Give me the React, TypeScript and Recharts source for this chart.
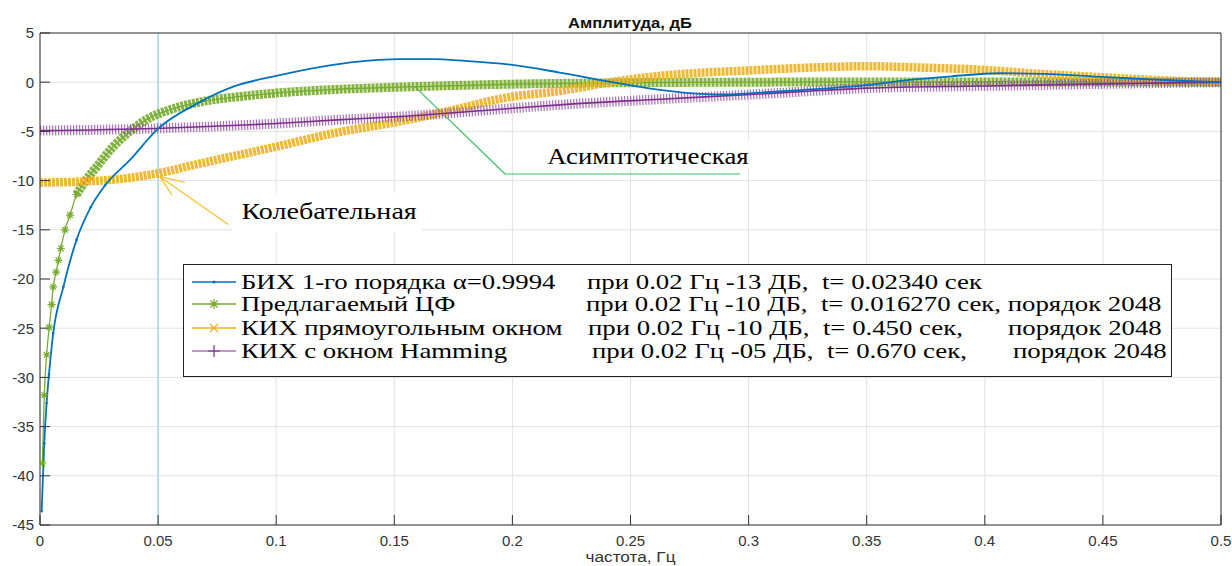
import React from "react";
import {
  LineChart,
  Line,
  XAxis,
  YAxis,
  CartesianGrid,
  ReferenceLine,
  ReferenceArea,
  ReferenceDot,
  Label,
} from "recharts";

// axis ticks
const xTicks = [0, 0.05, 0.1, 0.15, 0.2, 0.25, 0.3, 0.35, 0.4, 0.45, 0.5];
const yTicks = [-45, -40, -35, -30, -25, -20, -15, -10, -5, 0, 5];

// БИХ 1-го порядка
const freqBlue = [0.0007, 0.0018, 0.0028, 0.0038, 0.0056, 0.0099, 0.0155, 0.0215, 0.0275, 0.0381, 0.0501, 0.0663, 0.0818, 0.1, 0.124, 0.138, 0.152, 0.1665, 0.18, 0.2, 0.22, 0.241, 0.2625, 0.2794, 0.29, 0.3048, 0.322, 0.35, 0.368, 0.386, 0.406, 0.425, 0.445, 0.465, 0.485, 0.5];
const ampBlue = [-43.6, -36.7, -32.6, -29.7, -25.5, -20.8, -16.0, -12.7, -10.5, -7.9, -4.7, -2.2, -0.45, 0.64, 1.76, 2.17, 2.34, 2.34, 2.17, 1.76, 0.98, 0.06, -0.78, -1.19, -1.25, -1.06, -0.8, -0.3, 0.23, 0.6, 0.91, 0.85, 0.6, 0.35, 0.12, 0];

// Предлагаемый ЦФ
const freqGreen = [0.001, 0.0018, 0.0028, 0.0039, 0.0049, 0.0056, 0.0068, 0.0078, 0.0088, 0.0106, 0.0127, 0.0155, 0.019, 0.024, 0.031, 0.038, 0.045, 0.055, 0.068, 0.085, 0.1, 0.124, 0.152, 0.2, 0.25, 0.3, 0.35, 0.4, 0.45, 0.5];
const ampGreen = [-38.7, -31.8, -27.7, -24.9, -22.6, -20.8, -19.3, -18.1, -16.9, -15.0, -13.5, -11.4, -10.1, -8.6, -6.55, -5.0, -3.8, -2.8, -2.0, -1.45, -1.1, -0.75, -0.5, -0.2, -0.05, 0.0, 0.03, 0.03, 0.02, 0];

// КИХ прямоугольным окном
const freqYellow = [0, 0.018, 0.035, 0.049, 0.068, 0.1, 0.124, 0.152, 0.169, 0.2, 0.22, 0.24, 0.2625, 0.305, 0.33, 0.35, 0.378, 0.4, 0.42, 0.45, 0.477, 0.5];
const ampYellow = [-10.2, -10.1, -9.8, -9.3, -8.25, -6.55, -5.2, -4.0, -3.15, -1.46, -0.9, -0.05, 0.64, 1.25, 1.52, 1.62, 1.45, 1.25, 0.9, 0.5, 0.17, 0];

// КИХ с окном Hamming
const freqPurple = [0, 0.049, 0.1, 0.124, 0.152, 0.2, 0.22, 0.2625, 0.305, 0.33, 0.35, 0.4, 0.45, 0.5];
const ampPurple = [-4.92, -4.7, -4.2, -3.85, -3.5, -2.65, -2.3, -1.73, -1.2, -0.85, -0.6, -0.38, -0.17, 0];

// annotations, in data units (Гц, дБ)
const asymPath = [[0.1588, -0.48], [0.1969, -9.33], [0.2964, -9.33]];
const asymBox = [0.2117, 0.3014, -5.87, -8.72];
const asymText = [0.2574, -7.5];
const kolOrigin = [0.0508, -9.6];
const kolRays = [[0.0614, -10.17], [0.0558, -11.46], [0.0797, -14.45]];
const kolBox = [0.0813, 0.1617, -11.26, -15.2];
const kolText = [0.1224, -13.09];

// legend text pieces: [text, left]
const legendRows: [string, number][][] = [
  [["БИХ 1-го порядка α=0.9994", 241], ["при 0.02 Гц -13 ДБ,  t= 0.02340 сек", 587]],
  [["Предлагаемый ЦФ", 241], ["при 0.02 Гц -10 ДБ,  t= 0.016270 сек, порядок 2048", 586]],
  [["КИХ прямоугольным окном", 241], ["при 0.02 Гц -10 ДБ,  t= 0.450 сек,", 588], ["порядок 2048", 1008]],
  [["КИХ с окном Hamming", 241], ["при 0.02 Гц -05 ДБ,  t= 0.670 сек,", 592], ["порядок 2048", 1013]],
];
const legendCenters = [281.5, 304, 327.5, 350.5];

const BLUE = "#0072bd";
const GREEN = "#77ac30";
const YELLOW = "#edb120";
const PURPLE = "#7e2f8e";
const SERIF = "'Liberation Serif', 'Times New Roman', serif";
const SANS = "'Liberation Sans', Arial, sans-serif";

const blueData = freqBlue.map((f, i) => ({ f, v: ampBlue[i] }));
const greenData = freqGreen.map((f, i) => ({ f, v: ampGreen[i], band: f >= 0.0155 ? ampGreen[i] : null }));
const yellowData = freqYellow.map((f, i) => ({ f, v: ampYellow[i] }));
const purpleData = freqPurple.map((f, i) => ({ f, v: ampPurple[i] }));

const starPath = (cx: number, cy: number, r: number) => {
  const d = r * 0.7;
  return `M${cx - r},${cy}H${cx + r}M${cx},${cy - r}V${cy + r}M${cx - d},${cy - d}L${cx + d},${cy + d}M${cx - d},${cy + d}L${cx + d},${cy - d}`;
};
const crossPath = (cx: number, cy: number, r: number) =>
  `M${cx - r},${cy - r}L${cx + r},${cy + r}M${cx - r},${cy + r}L${cx + r},${cy - r}`;
const plusPath = (cx: number, cy: number, r: number) =>
  `M${cx - r},${cy}H${cx + r}M${cx},${cy - r}V${cy + r}`;

const GreenStar = (props: any) => {
  const { cx, cy, payload, index } = props;
  if (cx == null || cy == null || payload.f > 0.016) return <g key={`gs${index}`} />;
  return <path key={`gs${index}`} d={starPath(cx, cy, 4)} stroke={GREEN} strokeWidth={1.2} fill="none" />;
};

const BlueDot = (props: any) => {
  const { cx, cy, payload, index } = props;
  if (cx == null || cy == null || payload.f > 0.03) return <g key={`bd${index}`} />;
  return <circle key={`bd${index}`} cx={cx} cy={cy} r={1.3} fill={BLUE} />;
};

// annotation text, widened like in the picture
const annoLabel = (value: string, sx: number) => (props: any) => {
  const vb = props.viewBox || {};
  const x = (vb.x ?? 0) + (vb.width ?? 0) / 2;
  const y = (vb.y ?? 0) + (vb.height ?? 0) / 2;
  return (
    <text transform={`translate(${x},${y + 8}) scale(${sx},1)`} x={0} y={0} textAnchor="middle"
      fontFamily={SERIF} fontSize={23} fill="#000">
      {value}
    </text>
  );
};

const xAxisTitle = (props: any) => {
  const vb = props.viewBox || {};
  const cx = (vb.x ?? 0) + (vb.width ?? 0) / 2;
  return (
    <text x={cx - 45} y={(vb.y ?? 0) + 37} textLength={90} lengthAdjust="spacingAndGlyphs"
      fontFamily={SANS} fontSize={14} fill="#333">
      частота, Гц
    </text>
  );
};

function LegendBox() {
  const colors = [BLUE, GREEN, YELLOW, "#a77bb6"];
  const markers = [
    <circle cx={22} cy={7} r={1.5} fill={BLUE} />,
    <path d={starPath(22, 7, 5)} stroke={GREEN} strokeWidth={1.2} fill="none" />,
    <path d={crossPath(22, 7, 4)} stroke={YELLOW} strokeWidth={1.2} fill="none" />,
    <path d={plusPath(22, 7, 6)} stroke={PURPLE} strokeWidth={1.2} fill="none" />,
  ];
  return (
    <div
      style={{
        position: "absolute",
        left: 183,
        top: 264,
        width: 989,
        height: 113,
        boxSizing: "border-box",
        border: "1px solid #222",
        background: "#fff",
        fontFamily: SERIF,
        fontSize: 21,
        color: "#000",
      }}
    >
      {legendRows.map((row, i) => (
        <React.Fragment key={`row${i}`}>
          <svg width={46} height={14} style={{ position: "absolute", left: 8, top: legendCenters[i] - 264 - 8 }}>
            <line x1={0} x2={44} y1={7} y2={7} stroke={colors[i]} strokeWidth={1.3} />
            {markers[i]}
          </svg>
          {row.map(([t, l]) => (
            <span
              key={t}
              style={{
                position: "absolute",
                left: l - 184,
                top: legendCenters[i] - 264 - 13,
                whiteSpace: "pre",
                lineHeight: "24px",
                transform: "scaleX(1.275)",
                transformOrigin: "0 0",
              }}
            >
              {t}
            </span>
          ))}
        </React.Fragment>
      ))}
    </div>
  );
}

const tickFont = { fill: "#333", fontSize: 15, fontFamily: SANS };

export default function App() {
  return (
    <div style={{ position: "absolute", left: 0, top: 0, width: 1232, height: 566, background: "#fff" }}>
      <svg width={1232} height={40} style={{ position: "absolute", left: 0, top: 0 }}>
        <text x={568} y={28} textLength={124} lengthAdjust="spacingAndGlyphs"
          fontFamily={SANS} fontWeight="bold" fontSize={14} fill="#111">
          Амплитуда, дБ
        </text>
      </svg>
      <LineChart width={1232} height={566} margin={{ top: 32, right: 10, bottom: 0, left: 0 }}>
        <CartesianGrid stroke="#e2e2e2" />
        <XAxis
          dataKey="f"
          type="number"
          domain={[0, 0.5]}
          ticks={xTicks}
          height={41}
          stroke="#333"
          tickSize={-10}
          tickMargin={20}
          tick={tickFont}
          tickFormatter={(v: number) => String(v)}
          allowDataOverflow
        >
          <Label content={xAxisTitle} />
        </XAxis>
        <XAxis
          xAxisId="top"
          orientation="top"
          dataKey="f"
          type="number"
          domain={[0, 0.5]}
          ticks={xTicks}
          height={1}
          stroke="#333"
          tickSize={-10}
          tick={false}
        />
        <YAxis
          type="number"
          domain={[-45, 5]}
          ticks={yTicks}
          width={40}
          stroke="#333"
          tickSize={-10}
          tickMargin={16}
          tick={tickFont}
          allowDataOverflow
        />
        <YAxis
          yAxisId="right"
          orientation="right"
          type="number"
          domain={[-45, 5]}
          ticks={yTicks}
          width={1}
          stroke="#333"
          tickSize={-10}
          tick={false}
        />

        <ReferenceLine x={0.05} stroke="#a6dbe9" strokeWidth={1.6} />

        <ReferenceArea x1={asymBox[0]} x2={asymBox[1]} y1={asymBox[2]} y2={asymBox[3]} fill="#fff" fillOpacity={1} stroke="none" />
        <ReferenceArea x1={kolBox[0]} x2={kolBox[1]} y1={kolBox[2]} y2={kolBox[3]} fill="#fff" fillOpacity={1} stroke="none" />

        <ReferenceLine
          segment={[{ x: asymPath[0][0], y: asymPath[0][1] }, { x: asymPath[1][0], y: asymPath[1][1] }]}
          stroke="#3cc060"
          strokeWidth={1.2}
        />
        <ReferenceLine
          segment={[{ x: asymPath[1][0], y: asymPath[1][1] }, { x: asymPath[2][0], y: asymPath[2][1] }]}
          stroke="#3cc060"
          strokeWidth={1.2}
        />
        {kolRays.map((p, i) => (
          <ReferenceLine
            key={`ray${i}`}
            segment={[{ x: kolOrigin[0], y: kolOrigin[1] }, { x: p[0], y: p[1] }]}
            stroke="#f5c02a"
            strokeWidth={1.2}
          />
        ))}
        <ReferenceDot x={asymText[0]} y={asymText[1]} r={0} fill="none" stroke="none"
          label={{ content: annoLabel("Асимптотическая", 1.165) }} />
        <ReferenceDot x={kolText[0]} y={kolText[1]} r={0} fill="none" stroke="none"
          label={{ content: annoLabel("Колебательная", 1.22) }} />

        {/* thick marker bands */}
        <Line data={greenData} dataKey="band" type="monotone" stroke={GREEN} strokeWidth={9}
          strokeDasharray="3 1" strokeOpacity={0.9} dot={false} activeDot={false} isAnimationActive={false} />
        <Line data={greenData} dataKey="v" type="monotone" stroke={GREEN} strokeWidth={1.3}
          dot={GreenStar} activeDot={false} isAnimationActive={false} />
        <Line data={yellowData} dataKey="v" type="monotone" stroke={YELLOW} strokeWidth={8.5}
          strokeDasharray="3 1" strokeOpacity={0.9} dot={false} activeDot={false} isAnimationActive={false} />
        <Line data={purpleData} dataKey="v" type="monotone" stroke="#9149a5" strokeWidth={10}
          strokeDasharray="1.3 1.7" strokeOpacity={0.75} dot={false} activeDot={false} isAnimationActive={false} />
        <Line data={purpleData} dataKey="v" type="monotone" stroke={PURPLE} strokeWidth={1.6}
          dot={false} activeDot={false} isAnimationActive={false} />
        <Line data={blueData} dataKey="v" type="monotone" stroke={BLUE} strokeWidth={1.8}
          dot={BlueDot} activeDot={false} isAnimationActive={false} />
      </LineChart>
      <LegendBox />
    </div>
  );
}
